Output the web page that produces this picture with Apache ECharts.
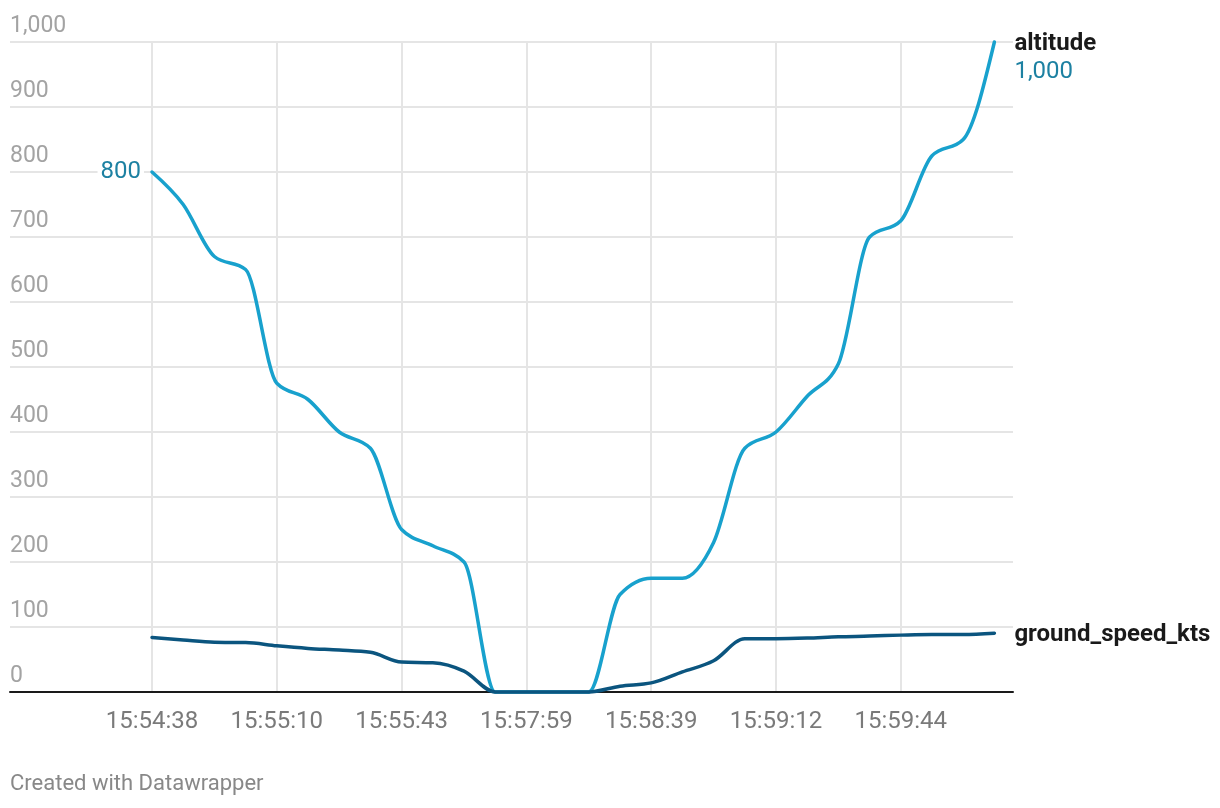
<!DOCTYPE html>
<html>
<head>
<meta charset="utf-8">
<script src="https://cdn.jsdelivr.net/npm/echarts@6/dist/echarts.min.js"></script>
<style>
html,body{margin:0;padding:0;background:#fff}
#chart{width:1220px;height:808px}
</style>
</head>
<body>
<div id="chart"></div>
<script>
// ---- data ----
const times = [
  '15:54:38','15:54:46','15:54:54','15:55:02',
  '15:55:10','15:55:18','15:55:26','15:55:35',
  '15:55:43','15:56:17','15:56:51','15:57:25',
  '15:57:59','15:58:09','15:58:19','15:58:29',
  '15:58:39','15:58:47','15:58:55','15:59:04',
  '15:59:12','15:59:20','15:59:28','15:59:36',
  '15:59:44','15:59:52','16:00:00','16:00:08'
];
const altitude = [800,750,670,650,475,450,400,375,250,225,200,0,0,0,0,150,175,175,230,375,400,455,505,700,725,825,850,1000];
const groundSpeed = [84,80,76.5,76,71,67,64.5,61,46,45,32,0,0,0,0,9,14,31,48,82,82,83,85,86,87.5,88.5,88.5,90.5];
const seriesNames = ['altitude','ground_speed_kts'];
const yMin = 0, yMax = 1000, yStep = 100;
const footerText = 'Created with Datawrapper';

// ---- styling ----
const FONT = 'Roboto, "Noto Sans", sans-serif';
const C_ALT = '#18a1cd', C_ALT_TXT = '#1d81a2', C_GS = '#0b557f';
const fmt = v => Number(v).toLocaleString('en-US');

// monotone-x cubic path through pixel points (same scheme as d3.curveMonotoneX)
function monoPath(p) {
  const n = p.length, t = new Array(n);
  const sgn = x => (x < 0 ? -1 : 1);
  for (let i = 1; i < n - 1; i++) {
    const h0 = p[i][0] - p[i-1][0], h1 = p[i+1][0] - p[i][0];
    const s0 = (p[i][1] - p[i-1][1]) / h0, s1 = (p[i+1][1] - p[i][1]) / h1;
    const pp = (s0 * h1 + s1 * h0) / (h0 + h1);
    t[i] = (sgn(s0) + sgn(s1)) * Math.min(Math.abs(s0), Math.abs(s1), 0.5 * Math.abs(pp)) || 0;
  }
  t[0] = (3 * (p[1][1] - p[0][1]) / (p[1][0] - p[0][0]) - t[1]) / 2;
  t[n-1] = (3 * (p[n-1][1] - p[n-2][1]) / (p[n-1][0] - p[n-2][0]) - t[n-2]) / 2;
  let d = 'M' + p[0][0] + ' ' + p[0][1];
  for (let i = 0; i < n - 1; i++) {
    const dx = (p[i+1][0] - p[i][0]) / 3;
    d += ' C' + (p[i][0] + dx) + ' ' + (p[i][1] + dx * t[i]) + ' ' +
         (p[i+1][0] - dx) + ' ' + (p[i+1][1] - dx * t[i+1]) + ' ' +
         p[i+1][0] + ' ' + p[i+1][1];
  }
  return d;
}
function curveSeries(values, color, z) {
  return {
    type: 'custom', xAxisIndex: 1, yAxisIndex: 1, z: z, silent: true,
    data: values.map((v, i) => [i, v]), encode: {x: 0, y: 1},
    renderItem: (params, api) => {
      if (params.dataIndex !== 0) return null;
      const pts = values.map((v, i) => api.coord([i, v]));
      return {type: 'path', shape: {pathData: monoPath(pts)},
        style: {stroke: color, lineWidth: 3.5, fill: 'none', lineCap: 'round', lineJoin: 'round'}};
    }
  };
}

const chart = echarts.init(document.getElementById('chart'), null, {renderer:'canvas'});
chart.setOption({
  animation: false,
  backgroundColor: '#fff',
  textStyle: {fontFamily: FONT},
  grid: [
    {left: 10, right: 207, top: 42, bottom: 116},
    {left: 152, right: 225.6, top: 42, bottom: 116}
  ],
  xAxis: [
    {gridIndex: 0, type: 'value', min: 0, max: 1, show: true, z: 2,
     axisLine: {show: true, lineStyle: {color: '#1a1a1a', width: 2}},
     axisTick: {show: false}, axisLabel: {show: false}, splitLine: {show: false}},
    {gridIndex: 1, type: 'category', data: times, boundaryGap: false,
     axisLine: {show: false}, axisTick: {show: false},
     axisLabel: {interval: 3, color: '#7a7a7a', fontSize: 24, fontFamily: FONT, margin: 18},
     splitLine: {show: true, interval: 3, lineStyle: {color: '#e5e5e5', width: 2}}}
  ],
  yAxis: [
    {gridIndex: 0, type: 'value', min: yMin, max: yMax, interval: yStep,
     axisLine: {show: false}, axisTick: {show: false},
     axisLabel: {inside: true, margin: 0, color: '#a3a3a3', fontSize: 23, fontFamily: FONT,
       verticalAlign: 'bottom', padding: [0,0,4,0], formatter: v => fmt(v),
       showMinLabel: true, showMaxLabel: true},
     splitLine: {show: true, lineStyle: {color: '#e5e5e5', width: 2}}},
    {gridIndex: 1, type: 'value', min: yMin, max: yMax, interval: yStep, show: false}
  ],
  series: [
    curveSeries(altitude, C_ALT, 3),
    curveSeries(groundSpeed, C_GS, 4),
    {
      name: seriesNames[0], type: 'line', xAxisIndex: 1, yAxisIndex: 1,
      data: altitude, showSymbol: false, silent: true, z: 5,
      lineStyle: {color: 'rgba(0,0,0,0)', width: 0}, itemStyle: {color: C_ALT},
      endLabel: {show: true, distance: 20, offset: [0, 16],
        formatter: p => '{n|' + p.seriesName + '}\n{v|' + fmt(p.value) + '}',
        rich: {
          n: {fontSize: 24, fontWeight: 'bold', color: '#1a1a1a', fontFamily: FONT, lineHeight: 28},
          v: {fontSize: 24, color: C_ALT_TXT, fontFamily: FONT, lineHeight: 28}
        }},
      markPoint: {
        symbol: 'circle', symbolSize: 0, silent: true,
        data: [{coord: [times[0], altitude[0]], value: altitude[0]}],
        label: {show: true, position: 'left', distance: 8, formatter: p => fmt(p.value),
          color: C_ALT_TXT, fontSize: 24, fontFamily: FONT, backgroundColor: '#fff', padding: [0,3,0,3]}
      }
    },
    {
      name: seriesNames[1], type: 'line', xAxisIndex: 1, yAxisIndex: 1,
      data: groundSpeed, showSymbol: false, silent: true, z: 5,
      lineStyle: {color: 'rgba(0,0,0,0)', width: 0}, itemStyle: {color: C_GS},
      endLabel: {show: true, distance: 20, offset: [0, 2],
        formatter: p => p.seriesName,
        fontSize: 24, fontWeight: 'bold', color: '#1a1a1a', fontFamily: FONT}
    }
  ],
  graphic: [
    {type: 'text', left: 10, top: 773,
     style: {text: footerText, fontSize: 22, fontFamily: FONT, fill: '#888888'}}
  ]
});
</script>
</body>
</html>
